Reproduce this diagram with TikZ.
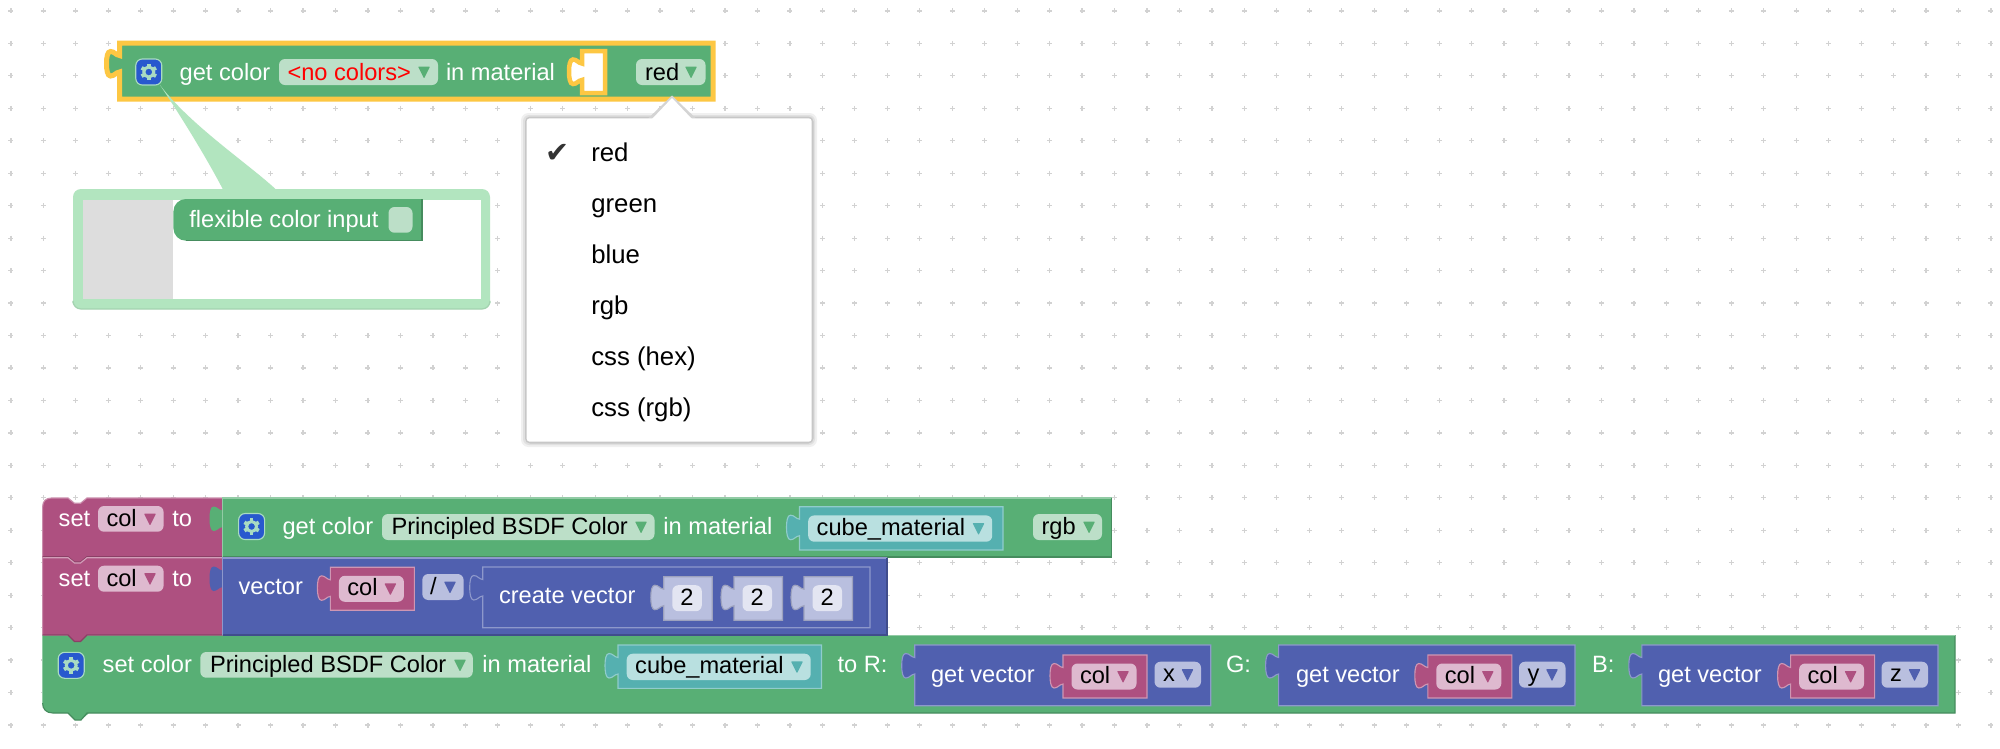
\documentclass[tikz,border=0pt]{standalone}
\usepackage{fontspec}
\setmainfont{Liberation Sans}
\newfontfamily\symfont{DejaVu Sans}
\definecolor{bgreen}{HTML}{58AF75}
\definecolor{bmag}{HTML}{AE5080}
\definecolor{bblue}{HTML}{5060AF}
\definecolor{bteal}{HTML}{55B0B0}
\definecolor{lgreen}{HTML}{BCDFC8}
\definecolor{lmag}{HTML}{DEB9CF}
\definecolor{lblue}{HTML}{B9BFDF}
\definecolor{lteal}{HTML}{B9E0E0}
\definecolor{llav}{HTML}{E3E5F2}
\definecolor{hl}{HTML}{FDC743}
\definecolor{bubble}{HTML}{B2E5BF}
\definecolor{gearblue}{HTML}{2859CE}
\definecolor{gearlight}{HTML}{A9DBC2}
\definecolor{gridc}{HTML}{D2D2D2}
\newcount\nodeid
\tikzset{
  lbl/.style={anchor=base west,inner sep=0pt,outer sep=0pt,font=\fontsize{9.45}{11}\selectfont},
  menuitem/.style={anchor=base west,inner sep=0pt,outer sep=0pt,text=black,font=\fontsize{10.3}{12}\selectfont},
  edge/.style={line width=.45pt,line join=miter},
}
% left edge of a block, with its puzzle tab, going down
\newcommand\tabseg[2]{ -- (#1,#2+12.5) .. controls (#1-4,#2+12) and (#1-5,#2+8.5) .. (#1-9,#2+8.5) .. controls (#1-12,#2+8.5) and (#1-13,#2+14) .. (#1-13,#2+20.7) .. controls (#1-13,#2+27) and (#1-12,#2+33) .. (#1-9,#2+33) .. controls (#1-5,#2+33) and (#1-4,#2+29.5) .. (#1,#2+29) }
% text: x, baseline, colour, text
\newcommand\txt[4]{\global\advance\nodeid by 1 \node[lbl,text=#3] (t\the\nodeid) at (#1,#2) {#4};}
% field: bg, x1,y1,x2,y2
\newcommand\fld[5]{\fill[#1,rounded corners=2.4pt] (#2,#3) rectangle (#4,#5);}
% dropdown triangle: colour, x left, y centre
\newcommand\tri[3]{\fill[#1,rounded corners=.3pt] (#2,#3-5.5) -- (#2+12,#3-5.5) -- (#2+6,#3+6.5) -- cycle;}
% nested block: fill, edge, x1,y1,x2,y2
\newcommand\inblock[6]{\filldraw[fill=#1,draw=#2,edge] (#3,#4) \tabseg{#3}{#4} -- (#3,#6) -- (#5,#6) -- (#5,#4) -- cycle;}
% top-level rectangular block with tab: fill, x1,y1,x2,y2
\newcommand\outblock[5]{\fill[#1] (#2,#3) \tabseg{#2}{#3} -- (#2,#5) -- (#4,#5) -- (#4,#3) -- cycle;
  \draw[edge,draw=#1!65!white] (#2,#5) -- (#2,#3) -- (#4,#3);
  \draw[edge,draw=#1!80!black] (#2,#5) -- (#4,#5) -- (#4,#3);}
% mutator icon: centre x, y
\newcommand\gearicon[2]{
  \filldraw[fill=gearblue,draw=gearlight,line width=.45pt,rounded corners=2.6pt] (#1-13,#2-13) rectangle (#1+13,#2+13);
  \foreach \a in {30,90,...,330}{\draw[gearlight,line width=1.5pt] ({#1+4.5*cos(\a)},{#2+4.5*sin(\a)}) -- ({#1+8.3*cos(\a)},{#2+8.3*sin(\a)});}
  \draw[gearlight,line width=1.2pt] (#1,#2) circle[radius=5];
}
% variable block col: body x1, body y1
\newcommand\colblock[2]{%
  \inblock{bmag}{bmag!60!white}{#1}{#2}{#1+84}{#2+43}
  \fld{lmag}{#1+8.5}{#2+8.5}{#1+73.5}{#2+34.5}
  \txt{#1+17}{#2+28}{black}{col}
  \tri{bmag}{#1+54}{#2+21.5}
}
% letter field: x1, y1, letter
\newcommand\letterfld[3]{
  \fld{lblue}{#1}{#2}{#1+46.5}{#2+26}
  \txt{#1+8.5}{#2+20}{black}{#3}
  \tri{bblue}{#1+27}{#2+13}
}
\newcommand\numblock[2]{%
  \inblock{lblue}{lblue!85!black}{#1}{#2}{#1+48.5}{#2+43.5}
  \fld{llav}{#1+8.5}{#2+8.5}{#1+38}{#2+34.5}
  \txt{#1+16.5}{#2+29}{black}{2}
}
\newcommand\tealblock[2]{%
  \inblock{bteal}{bteal!65!white}{#1}{#2}{#1+203.5}{#2+43.3}
  \fld{lteal}{#1+8.7}{#2+8.7}{#1+192.7}{#2+35}
  \txt{#1+17.2}{#2+28.5}{black}{cube\_material}
  \tri{bteal}{#1+173}{#2+21.8}
}
\begin{document}
\begin{tikzpicture}[x=0.4pt,y=-0.4pt]
\useasboundingbox (0,0) rectangle (2000,748);
\fill[white] (0,0) rectangle (2000,748);
% grid of small crosses
\foreach \i in {0,...,61}{\foreach \j in {0,...,22}{
  \pgfmathsetmacro\gx{10.9+32.46*\i}\pgfmathsetmacro\gy{10.9+32.46*\j}
  \draw[gridc,line width=.5pt] (\gx-2.5,\gy) -- (\gx+2.5,\gy) (\gx,\gy-2.5) -- (\gx,\gy+2.5);
}}
%%%%%%%% callout bubble
\fill[bubble,rounded corners=3.2pt] (73,189) rectangle (490,309);
\draw[draw=bubble!92!black,line width=.5pt,rounded corners=3.2pt] (73,303) -- (73,309) -- (490,309) -- (490,303);
\fill[white] (82.5,200) rectangle (480.7,299.3);
\fill[black!13.5] (82.5,200) rectangle (173.4,299.3);
\fill[bgreen] (190,199) rectangle (422,240.7);
\fill[bgreen,rounded corners=5pt] (173.4,199) rectangle (215,240.7);
\draw[edge,draw=bgreen!80!black] (186,240.7) -- (422,240.7) -- (422,199);
\txt{189.4}{227.5}{white}{flexible color input}
\fld{lgreen}{388.5}{207}{412.5}{232.7}
%%%%%%%% top block, selected
\filldraw[fill=bgreen,draw=hl,line width=2pt,line join=miter] (119.5,43) \tabseg{119.5}{43} -- (119.5,99) -- (713,99) -- (713,43) -- cycle;
\gearicon{148.8}{72}
\txt{179.7}{80.3}{white}{get color}
\fld{lgreen}{279}{59}{438}{85}
\txt{287.5}{80.3}{red}{<no colors>}
\tri{bgreen}{418}{72}
\txt{446}{80.3}{white}{in material}
\filldraw[fill=white,draw=hl,line width=1.8pt,line join=miter] (582,51) \tabseg{582}{51} -- (582,93) -- (605,93) -- (605,51) -- cycle;
\fld{lgreen}{636}{59}{705.5}{85}
\txt{645}{80.3}{black}{red}
\tri{bgreen}{685}{72}
% callout tail, over the block
\fill[bubble] (160,85) .. controls (190,125) and (250,165) .. (276,189.5) -- (223,189.5) .. controls (205,155) and (180,115) .. (160,85) -- cycle;
%%%%%%%% dropdown menu
\fill[black!6,rounded corners=3pt] (521,113) rectangle (817,447);
\fill[black!12,rounded corners=2.5pt] (523,115) rectangle (815,445);
\fill[black!22,rounded corners=2pt] (525,116.5) rectangle (813.5,443.5);
\fill[black!17] (648,118.5) -- (672,95.5) -- (696,118.5) -- cycle;
\fill[white,rounded corners=1.2pt] (526.7,118.3) rectangle (811.7,441.7);
\fill[white] (652,119) -- (672,98) -- (692,119) -- cycle;
\global\advance\nodeid by 1
\node[anchor=base west,inner sep=0pt,text=black!80,font=\symfont\fontsize{11.5}{12}\selectfont] (t\the\nodeid) at (545,162) {✔};
\node[menuitem] (m1) at (591.3,161.5) {red};
\node[menuitem] (m2) at (591.3,212.5) {green};
\node[menuitem] (m3) at (591.3,263.5) {blue};
\node[menuitem] (m4) at (591.3,314.5) {rgb};
\node[menuitem] (m5) at (591.3,365.5) {css (hex)};
\node[menuitem] (m6) at (591.3,416.5) {css (rgb)};
%%%%%%%% set color block (bottom row)
\fill[bgreen] (42.6,635) -- (1955,635) -- (1955,713) -- (89,713) -- (81,720) -- (75,720) -- (68,713) -- (53,713) .. controls (46,713) and (42.6,709) .. (42.6,703) -- cycle;
\draw[edge,draw=bgreen!80!black] (1955,635) -- (1955,713) -- (87,713) -- (81,720) -- (75,720) -- (68,713) -- (53,713) .. controls (46,713) and (42.6,709) .. (42.6,703);
\draw[edge,draw=bgreen!65!white] (42.6,703) -- (42.6,635.5) -- (1955,635.5);
\gearicon{71.2}{665.3}
\txt{102.7}{672}{white}{set color}
\fld{lgreen}{200.3}{652}{472.8}{677.7}
\txt{210}{672}{black}{Principled BSDF Color}
\tri{bgreen}{454}{665}
\txt{482.4}{672}{white}{in material}
\tealblock{618}{645}
\txt{837.5}{672}{white}{to R:}
\inblock{bblue}{bblue!65!white}{914.7}{645}{1210.7}{705.7}
\txt{931}{682}{white}{get vector}
\colblock{1063}{655}
\letterfld{1154.5}{661.7}{x}
\txt{1226}{672}{white}{G:}
\inblock{bblue}{bblue!65!white}{1278.6}{645}{1575}{705.7}
\txt{1296}{682}{white}{get vector}
\colblock{1427.8}{655}
\letterfld{1519}{661.7}{y}
\txt{1592}{672}{white}{B:}
\inblock{bblue}{bblue!65!white}{1641.8}{645}{1938}{705.7}
\txt{1658}{682}{white}{get vector}
\colblock{1790.6}{655}
\letterfld{1881.5}{661.7}{z}
%%%%%%%% set blocks
\fill[bmag] (51.6,498) -- (68,498) -- (74.5,503.3) -- (80.5,503.3) -- (87,498) -- (222.5,498) -- (222.5,635) -- (87,635) -- (80.5,641.5) -- (74.5,641.5) -- (68,635) -- (42.6,635) -- (42.6,507) .. controls (42.6,501) and (46,498) .. (51.6,498) -- cycle;
\draw[edge,draw=bmag!65!white] (42.6,635) -- (42.6,507) .. controls (42.6,501) and (46,498) .. (51.6,498) -- (68,498) -- (74.5,503.3) -- (80.5,503.3) -- (87,498) -- (222.5,498);
\draw[edge,draw=bmag!80!black] (42.6,556.7) -- (68,556.7) -- (74.5,562) -- (80.5,562) -- (87,556.7) -- (222.5,556.7);
\draw[edge,draw=bmag!55!white] (42.6,557.7) -- (68,557.7) -- (74.5,563) -- (80.5,563) -- (87,557.7) -- (222.5,557.7);
\draw[edge,draw=bmag!80!black] (42.6,635) -- (68,635) -- (74.5,641.5) -- (80.5,641.5) -- (87,635) -- (222.5,635);
\txt{58.7}{526}{white}{set}
\fld{lmag}{98}{506}{163.6}{531.7}
\txt{106.5}{526}{black}{col}
\tri{bmag}{144}{519}
\txt{172.4}{526}{white}{to}
\txt{58.7}{586}{white}{set}
\fld{lmag}{98}{565.7}{163.6}{591.7}
\txt{106.5}{586}{black}{col}
\tri{bmag}{144}{578.7}
\txt{172.4}{586}{white}{to}
%%%%%%%% get color block
\outblock{bgreen}{222.5}{498}{1111.6}{557}
\gearicon{251.6}{526.5}
\txt{282.6}{534.3}{white}{get color}
\fld{lgreen}{382}{514}{654.5}{540}
\txt{391.5}{534.3}{black}{Principled BSDF Color}
\tri{bgreen}{635}{527}
\txt{663.4}{534.3}{white}{in material}
\tealblock{799.5}{506.7}
\fld{lgreen}{1033}{514}{1102}{540}
\txt{1041.5}{534.3}{black}{rgb}
\tri{bgreen}{1083}{527}
%%%%%%%% vector block
\outblock{bblue}{222.5}{558}{887}{635}
\txt{238.6}{594}{white}{vector}
\colblock{330.4}{567.3}
\fld{lblue}{422.3}{574}{463.6}{600}
\txt{430}{594}{black}{/}
\tri{bblue}{444}{587}
\inblock{bblue}{bblue!65!white}{482.7}{567}{870}{627.7}
\txt{499}{603.3}{white}{create vector}
\numblock{663.8}{576.7}
\numblock{734}{576.7}
\numblock{804}{576.7}
\end{tikzpicture}
\end{document}
